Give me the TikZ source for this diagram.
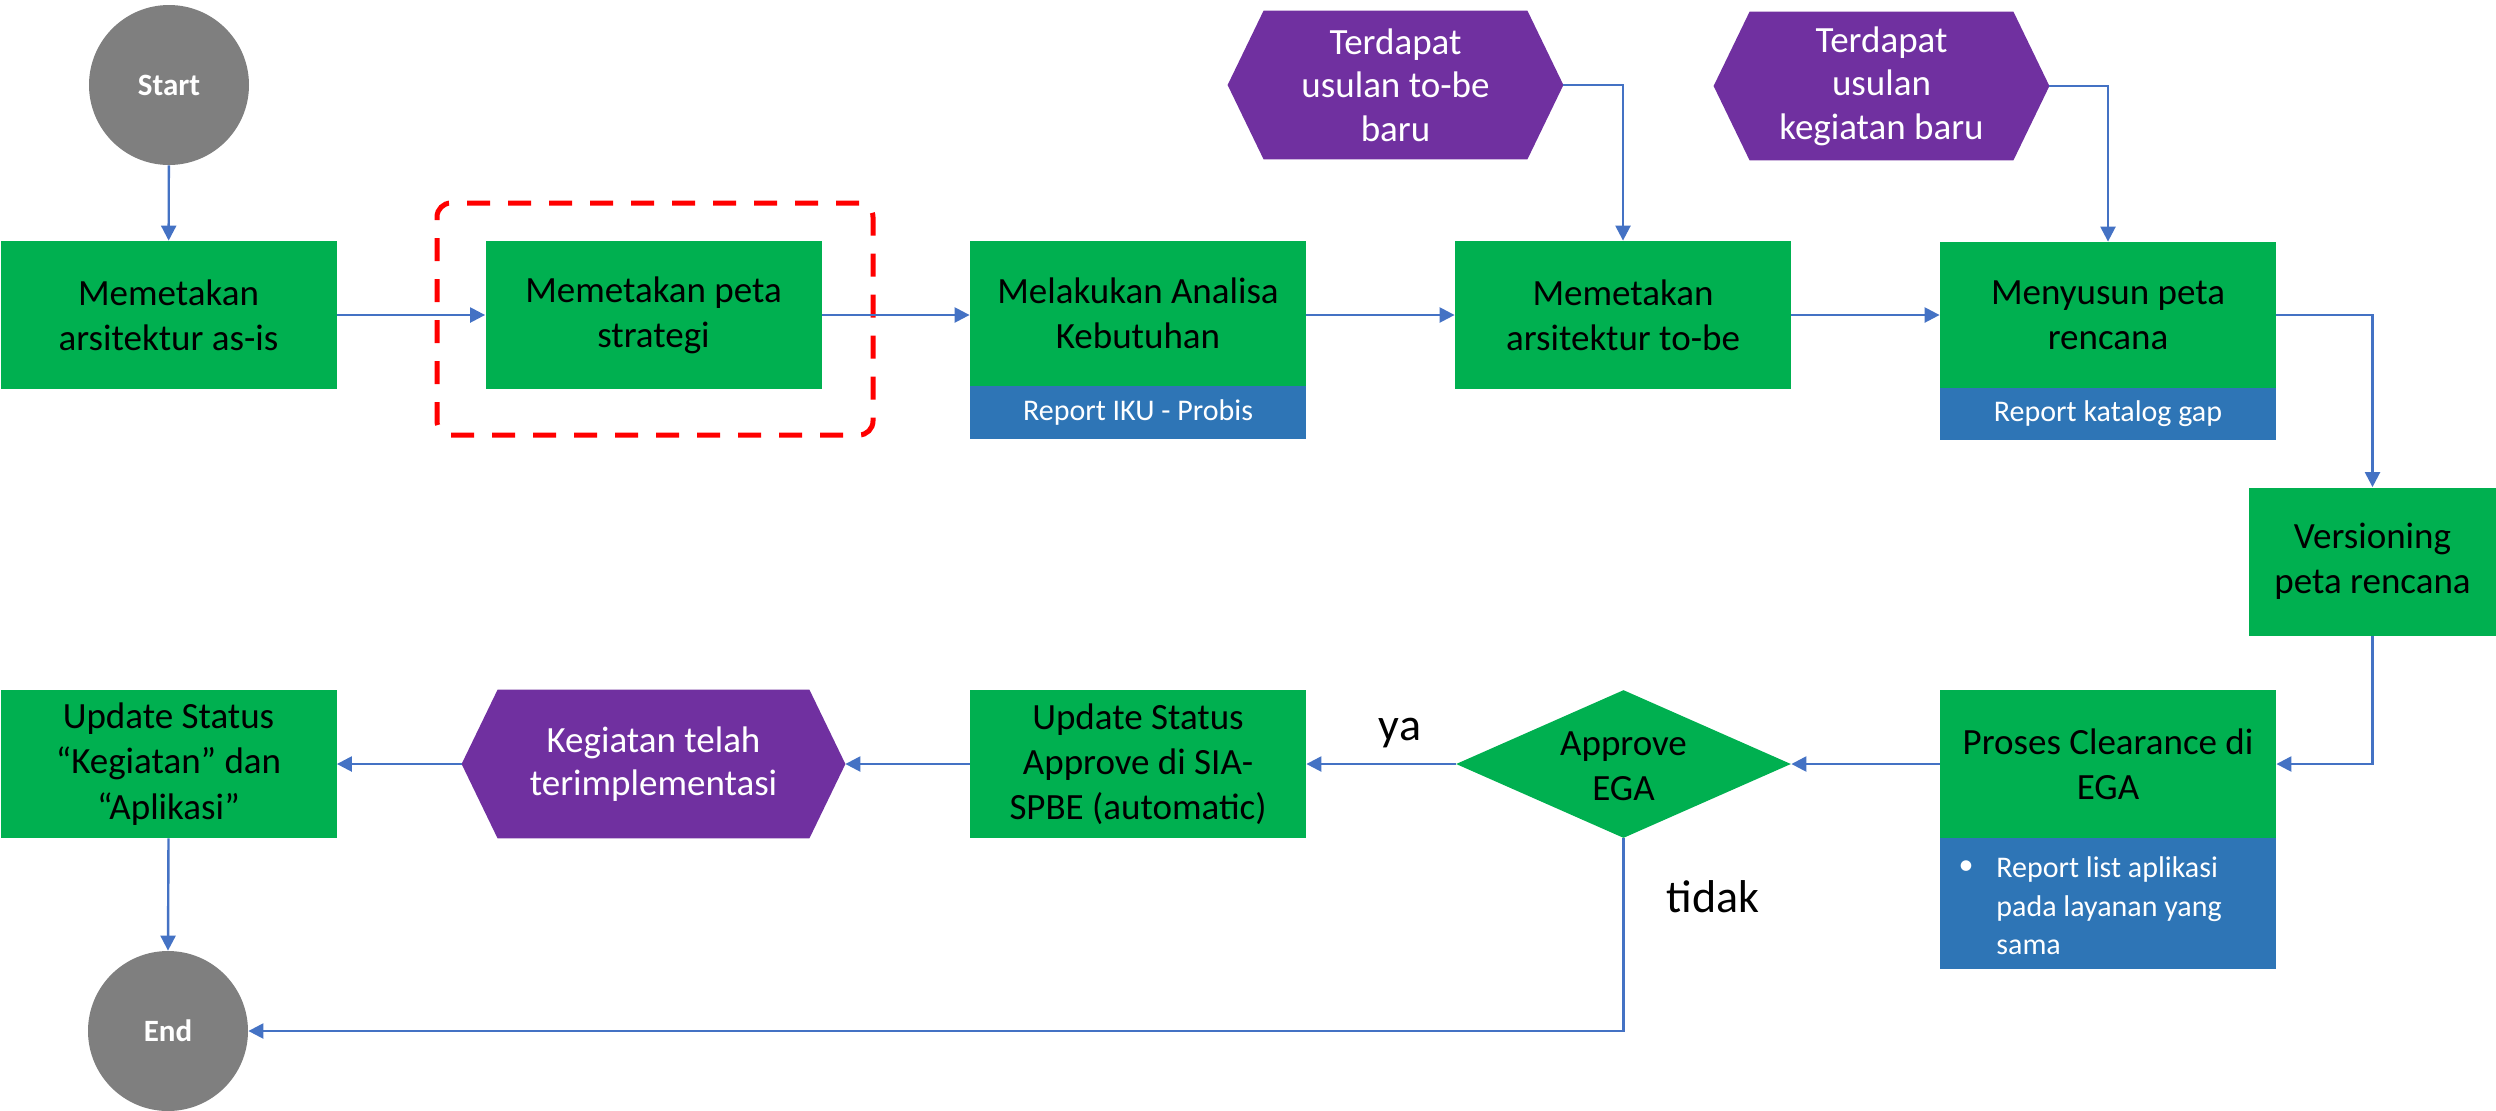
\documentclass[tikz,border=0pt]{standalone}
\usepackage{fontspec}
\setmainfont{Carlito}
\usetikzlibrary{arrows.meta,shapes.geometric,calc,backgrounds}
\definecolor{grn}{HTML}{00B050}
\definecolor{blu}{HTML}{2E75B6}
\definecolor{pur}{HTML}{7030A0}
\definecolor{gry}{HTML}{7F7F7F}
\definecolor{lnk}{HTML}{4472C4}
\definecolor{redd}{HTML}{FF0000}
\begin{document}
\begin{tikzpicture}[x=0.5pt,y=-0.5pt,
 proc/.style={fill=grn, minimum width=168pt, minimum height=74pt, inner sep=0pt, align=center, font=\fontsize{18.5}{22.6}\selectfont, text=black},
 bar/.style={fill=blu, minimum width=168pt, inner sep=0pt, text=white, font=\fontsize{15}{19}\selectfont},
 term/.style={circle, fill=gry, minimum size=80pt, inner sep=0pt, text=white, font=\bfseries\fontsize{15.5}{18}\selectfont},
 hexbox/.style={inner sep=0pt, minimum height=74pt, text=white, align=center, font=\fontsize{18.5}{21.7}\selectfont},
 dec/.style={diamond, fill=grn, minimum width=167.5pt, minimum height=74pt, inner sep=0pt},
 dectext/.style={align=center, inner sep=0pt, font=\fontsize{18.5}{22.6}\selectfont},
 flow/.style={draw=lnk, line width=1.2pt, -{Triangle[length=7.5pt,width=7.5pt]}},
 lab/.style={inner sep=0pt, font=\fontsize{23}{27}\selectfont},
 bartext/.style={inner sep=0pt, text=white, align=left, font=\fontsize{15}{19.25}\selectfont},
 hilite/.style={draw=redd, line width=2.5pt, dash pattern=on 11.5pt off 9pt, rounded corners=7pt, minimum width=218pt, minimum height=116pt}
]
\useasboundingbox (0,0) rectangle (2496,1110);

% top row
\node[term] (start) at (169,85) {Start};
\node[proc] (b1) at (168.5,315) {Memetakan\\arsitektur as-is};
\node[proc] (b2) at (653.5,315) {Memetakan peta\\strategi};
\node[hilite] (hl) at (655,319) {};
\node[proc, minimum height=72.5pt] (b3) at (1138,313.5) {Melakukan Analisa\\Kebutuhan};
\node[bar, minimum height=26.5pt] (r3) at (1138,412.5) {Report IKU - Probis};
\node[proc] (b4) at (1623,315) {Memetakan\\arsitektur to-be};
\node[proc, minimum height=73pt] (b5) at (2108,315) {Menyusun peta\\rencana};
\node[bar, minimum height=26pt] (r5) at (2108,414) {Report katalog gap};
\node[hexbox, minimum width=167.5pt] (h1) at (1395.5,85) {Terdapat\\usulan to-be\\baru};
\node[hexbox, minimum width=167.5pt] (h2) at (1881.5,86) {Terdapat\\usulan\\kegiatan baru};

% right column
\node[proc, minimum width=123.5pt] (b6) at (2372.5,561.5) {Versioning\\peta rencana};

% bottom row
\node[proc] (b7) at (2108,764) {Proses Clearance di\\EGA};
\node[bar, minimum height=65.5pt] (r7) at (2108,903.5) {};
\node[bartext] (bul) at (1966,868) {\textbullet};
\node[bartext, anchor=west] (r7t) at (1996,906) {Report list aplikasi\\pada layanan yang\\sama};
\node[dec] (d) at (1623.5,764) {};
\node[dectext] (dt) at (1623.5,766) {Approve\\EGA};
\node[proc] (b8) at (1138,764) {Update Status\\Approve di SIA-\\SPBE (automatic)};
\node[hexbox, minimum width=191.5pt] (h3) at (653.5,764) {Kegiatan telah\\terimplementasi};
\node[proc] (b9) at (168.5,764) {Update Status\\“Kegiatan” dan\\“Aplikasi”};
\node[term] (end) at (168,1031) {End};

\node[lab] (ya) at (1400,733) {ya};
\node[lab] (tidak) at (1713,897) {tidak};

% hexagon fills
\begin{scope}[on background layer]
\foreach \h in {h1,h2,h3}
  \fill[pur] (\h.west) -- ($(\h.north west)+(36,0)$) -- ($(\h.north east)+(-36,0)$) -- (\h.east) -- ($(\h.south east)+(-36,0)$) -- ($(\h.south west)+(36,0)$) -- cycle;
\end{scope}

% connectors
\draw[flow] (start) -- (b1);
\draw[flow] (b1) -- (b2);
\draw[flow] (b2.east) -- (b2.east -| b3.west);
\draw[flow] (b3.east |- b4) -- (b4.west);
\draw[flow] (b4) -- (b5);
\draw[flow] (h1.east) -| (b4.north);
\draw[flow] (h2.east) -| (b5.north);
\draw[flow] (b5.east) -| (b6.north);
\draw[flow] (b6.south) |- (b7.east);
\draw[flow] (b7.west) -- (d.east);
\draw[flow] (d.west) -- (b8.east);
\draw[flow] (b8.west) -- (h3.east);
\draw[flow] (h3.west) -- (b9.east);
\draw[flow] (b9.south) -- (end.north);
\draw[flow] (d.south) |- (end.east);
\end{tikzpicture}
\end{document}
